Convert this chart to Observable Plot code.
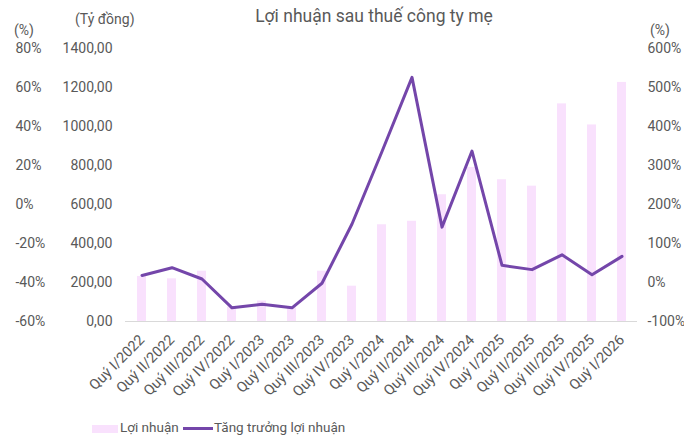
<!DOCTYPE html>
<html><head><meta charset="utf-8">
<script src="https://cdn.jsdelivr.net/npm/d3@7"></script>
<script src="https://cdn.jsdelivr.net/npm/@observablehq/plot@0.6"></script>
<style>
body{margin:0;background:#fff;font-family:Roboto,sans-serif;color:#595959}
#wrap{position:relative;width:684px;height:436px;overflow:hidden}
#chart{position:absolute;left:0;top:0}
.t{position:absolute;white-space:nowrap;line-height:1}
</style></head><body>
<div id="wrap">
<div id="chart"></div>
<div class="t" style="left:174px;width:400px;top:8px;text-align:center;font-size:17.5px">Lợi nhuận sau thuế công ty mẹ</div>
<div class="t" style="left:14px;top:23px;font-size:14px">(%)</div>
<div class="t" style="left:75px;top:12px;font-size:14px">(Tỷ đồng)</div>
<div class="t" style="left:650px;top:23px;font-size:14px">(%)</div>
<div class="t" style="left:92px;top:425px;width:26px;height:8px;background:#F9E1FD"></div>
<div class="t" style="left:120px;top:421px;font-size:13.5px">Lợi nhuận</div>
<div class="t" style="left:183px;top:427px;width:30px;height:3px;background:#7446AA"></div>
<div class="t" style="left:214px;top:421px;font-size:13.5px">Tăng trưởng lợi nhuận</div>
</div>
<script>
const categories = ["Quý I/2022","Quý II/2022","Quý III/2022","Quý IV/2022","Quý I/2023","Quý II/2023","Quý III/2023","Quý IV/2023","Quý I/2024","Quý II/2024","Quý III/2024","Quý IV/2024","Quý I/2025","Quý II/2025","Quý III/2025","Quý IV/2025","Quý I/2026"];
const profit = [231,219,258,75,105,70,258,181,496,514,650,790,727,694,1116,1008,1226];
const growth = [18,38,9,-65,-56,-65,-2,150,336,526,142,337,44,33,71,20,67];
const amountTicks = [0,200,400,600,800,1000,1200,1400];
const amountLabels = ["0,00","200,00","400,00","600,00","800,00","1000,00","1200,00","1400,00"];
const leftPctLabels = ["-60%","-40%","-20%","0%","20%","40%","60%","80%"];
const rightPctLabels = ["-100%","0%","100%","200%","300%","400%","500%","600%"];
const rightPctDomain = [-100, 600];

const rows = categories.map((q, i) => ({q, profit: profit[i], growth: growth[i]}));
// map growth (%) from the right axis domain onto the amount scale
const toAmount = p => (p - rightPctDomain[0]) / (rightPctDomain[1] - rightPctDomain[0]) * 1400;
const lab = arr => d => arr[amountTicks.indexOf(d)];

const chart = Plot.plot({
  width: 684, height: 436,
  marginTop: 48, marginBottom: 115, marginLeft: 125, marginRight: 47,
  style: {fontFamily: "Roboto, sans-serif", fontSize: "14px", color: "#595959", background: "transparent"},
  x: {domain: categories, paddingInner: 0.7, paddingOuter: 0.35, axis: null},
  y: {domain: [0, 1400], axis: null},
  marks: [
    Plot.barY(rows, {x: "q", y: "profit", fill: "#F9E1FD"}),
    Plot.ruleY([0], {stroke: "#d9d9d9"}),
    Plot.line(rows, {x: "q", y: d => toAmount(d.growth), stroke: "#7446AA", strokeWidth: 3}),
    Plot.axisY(amountTicks, {anchor: "left", label: null, tickSize: 0, tickPadding: 13, tickFormat: lab(amountLabels), fontSize: 14}),
    Plot.axisY(amountTicks, {anchor: "left", label: null, tickSize: 0, tickPadding: 110, textAnchor: "start", tickFormat: lab(leftPctLabels), fontSize: 14}),
    Plot.axisY(amountTicks, {anchor: "right", label: null, tickSize: 0, tickPadding: 10, tickFormat: lab(rightPctLabels), fontSize: 14}),
    Plot.axisX({label: null, tickRotate: -45, tickSize: 0, tickPadding: 16, fontSize: 14.5})
  ]
});
document.getElementById("chart").appendChild(chart);
</script>
</body></html>
